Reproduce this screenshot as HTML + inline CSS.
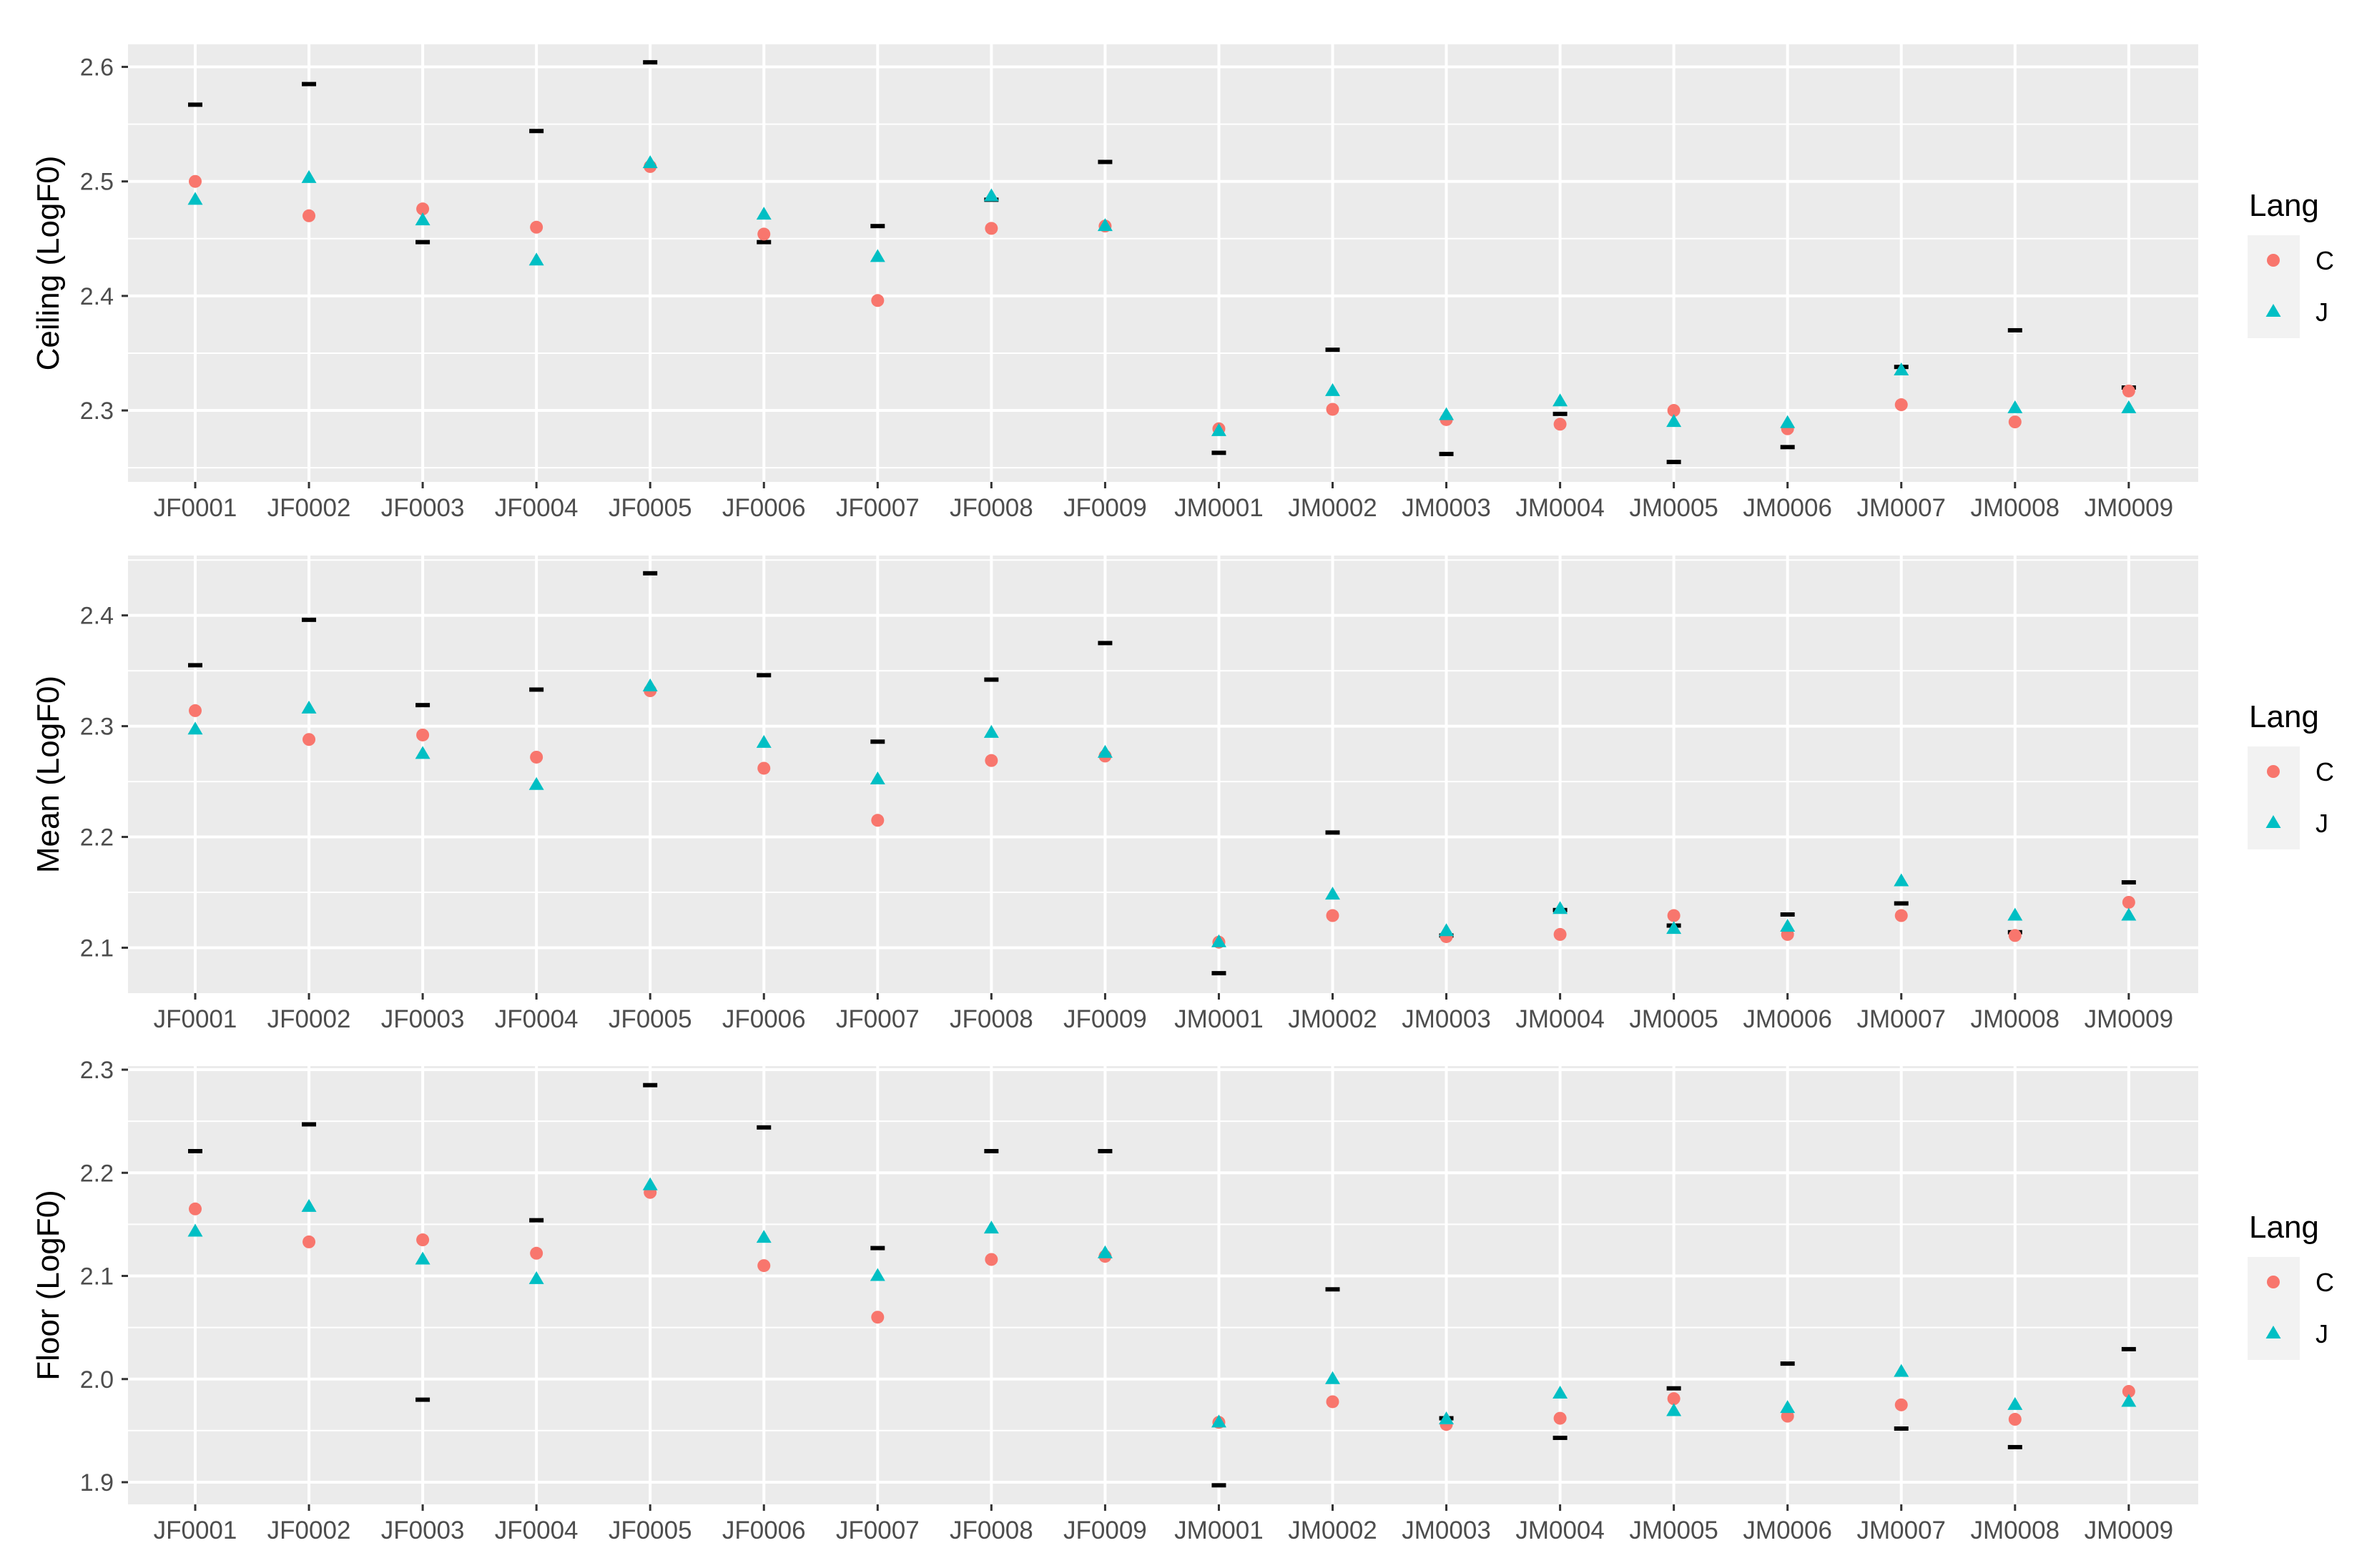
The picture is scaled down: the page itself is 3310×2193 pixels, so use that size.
<!DOCTYPE html>
<html><head><meta charset="utf-8"><style>
html,body{margin:0;padding:0;background:#fff;}
svg{display:block;font-family:"Liberation Sans",Arial,sans-serif;}
</style></head><body>
<svg id="chart" width="3310" height="2193" viewBox="0 0 3310 2193" xmlns="http://www.w3.org/2000/svg"></svg>
<script>
const categories=["JF0001","JF0002","JF0003","JF0004","JF0005","JF0006","JF0007","JF0008","JF0009","JM0001","JM0002","JM0003","JM0004","JM0005","JM0006","JM0007","JM0008","JM0009"];
const ceilingBlack=[2.567,2.585,2.447,2.544,2.604,2.447,2.461,2.484,2.517,2.263,2.353,2.262,2.297,2.255,2.268,2.338,2.370,2.320];
const ceilingC=[2.500,2.470,2.476,2.460,2.513,2.454,2.396,2.459,2.461,2.284,2.301,2.292,2.288,2.300,2.284,2.305,2.290,2.317];
const ceilingJ=[2.484,2.503,2.466,2.431,2.516,2.471,2.434,2.487,2.461,2.282,2.317,2.296,2.308,2.290,2.289,2.335,2.302,2.302];
const meanBlack=[2.355,2.396,2.319,2.333,2.438,2.346,2.286,2.342,2.375,2.077,2.204,2.111,2.134,2.120,2.130,2.140,2.114,2.159];
const meanC=[2.314,2.288,2.292,2.272,2.332,2.262,2.215,2.269,2.273,2.105,2.129,2.110,2.112,2.129,2.112,2.129,2.111,2.141];
const meanJ=[2.297,2.316,2.275,2.247,2.336,2.285,2.252,2.294,2.276,2.105,2.148,2.115,2.135,2.117,2.119,2.160,2.129,2.129];
const floorBlack=[2.221,2.247,1.980,2.154,2.285,2.244,2.127,2.221,2.221,1.897,2.087,1.962,1.943,1.991,2.015,1.952,1.934,2.029];
const floorC=[2.165,2.133,2.135,2.122,2.181,2.110,2.060,2.116,2.119,1.958,1.978,1.956,1.962,1.981,1.964,1.975,1.961,1.988];
const floorJ=[2.143,2.167,2.116,2.097,2.188,2.137,2.100,2.146,2.122,1.958,2.000,1.961,1.986,1.969,1.972,2.007,1.975,1.978];
const ceilingTicks=[2.3,2.4,2.5,2.6];
const meanTicks=[2.1,2.2,2.3,2.4];
const floorTicks=[1.9,2.0,2.1,2.2,2.3];

const NS="http://www.w3.org/2000/svg";
const svg=document.getElementById('chart');
function mk(tag,attrs,parent){const e=document.createElementNS(NS,tag);for(const k in attrs)e.setAttribute(k,attrs[k]);(parent||svg).appendChild(e);return e;}

const panels=[
 {name:'ceiling',title:'Ceiling (LogF0)',top:62,bottom:674,ymin:2.2376,ymax:2.6197,ticks:ceilingTicks,black:ceilingBlack,c:ceilingC,j:ceilingJ},
 {name:'mean',title:'Mean (LogF0)',top:777,bottom:1389,ymin:2.059,ymax:2.454,ticks:meanTicks,black:meanBlack,c:meanC,j:meanJ},
 {name:'floor',title:'Floor (LogF0)',top:1491,bottom:2104,ymin:1.8785,ymax:2.3035,ticks:floorTicks,black:floorBlack,c:floorC,j:floorJ}
];
const L=179,R=3074,x0=273,dx=159.05;
function xs(i){return x0+i*dx;}

panels.forEach(p=>{
 const g=mk('g',{});
 
 
 const ys=v=>p.bottom-(v-p.ymin)/(p.ymax-p.ymin)*(p.bottom-p.top);
 const bg=mk('rect',{x:L,y:p.top,width:R-L,height:p.bottom-p.top,fill:'#EBEBEB'},g);
 
 
 const step=p.ticks[1]-p.ticks[0];
 for(let k=-1;k<p.ticks.length;k++){
  const v=p.ticks[0]+(k+0.5)*step; const y=ys(v);
  if(y>p.top&&y<p.bottom){const m=mk('line',{x1:L,x2:R,y1:y,y2:y,stroke:'#fff','stroke-width':2},g);
   }
 }
 p.ticks.forEach(t=>{const y=ys(t);
  const gl=mk('line',{x1:L,x2:R,y1:y,y2:y,stroke:'#fff','stroke-width':4},g);
  
  const tk=mk('line',{x1:L-9,x2:L,y1:y,y2:y,stroke:'#333','stroke-width':3},g);
  
  const tl=mk('text',{x:L-20,y:y+12,'text-anchor':'end','font-size':34,fill:'#4D4D4D'},g);
  tl.textContent=t.toFixed(1);
  
 });
 categories.forEach((c,i)=>{const x=xs(i);
  const vl=mk('line',{x1:x,x2:x,y1:p.top,y2:p.bottom,stroke:'#fff','stroke-width':4},g);
  
  const tk=mk('line',{x1:x,x2:x,y1:p.bottom,y2:p.bottom+9,stroke:'#333','stroke-width':3},g);
  
  const tl=mk('text',{x:x,y:p.bottom+48,'text-anchor':'middle','font-size':35,fill:'#4D4D4D'},g);
  tl.textContent=c;
  
 });
 const cy=(p.top+p.bottom)/2;
 const yt=mk('text',{x:0,y:0,transform:`translate(82,${cy}) rotate(-90)`,'text-anchor':'middle','font-size':44,fill:'#000'},g);
 yt.textContent=p.title;
 
 categories.forEach((c,i)=>{const x=xs(i);
  const b=mk('rect',{x:x-10,y:ys(p.black[i])-3,width:20,height:6,fill:'#000'},g);
  
  const ci=mk('circle',{cx:x,cy:ys(p.c[i]),r:9,fill:'#F8766D'},g);
  
  const yj=ys(p.j[i]);
  const tr=mk('polygon',{points:`${x},${yj-11} ${x-10.5},${yj+7} ${x+10.5},${yj+7}`,fill:'#00BFC4'},g);
  
 });
 const off=p.top-62;
 const lg=mk('g',{},g);
 
 const lt=mk('text',{x:3145,y:302+off,'font-size':44,fill:'#000'},lg);
 lt.textContent='Lang';
 
 const kb=mk('rect',{x:3143,y:329+off,width:73,height:144,fill:'#F2F2F2'},lg);
 
 const lc=mk('circle',{cx:3179,cy:364+off,r:9,fill:'#F8766D'},lg);
 
 const ly=436+off;
 const lj=mk('polygon',{points:`3179,${ly-11} 3168.5,${ly+7} 3189.5,${ly+7}`,fill:'#00BFC4'},lg);
 
 const t1=mk('text',{x:3238,y:377+off,'font-size':36,fill:'#000'},lg);
 t1.textContent='C';
 
 const t2=mk('text',{x:3238,y:449+off,'font-size':36,fill:'#000'},lg);
 t2.textContent='J';
 
});
</script>
</body></html>
